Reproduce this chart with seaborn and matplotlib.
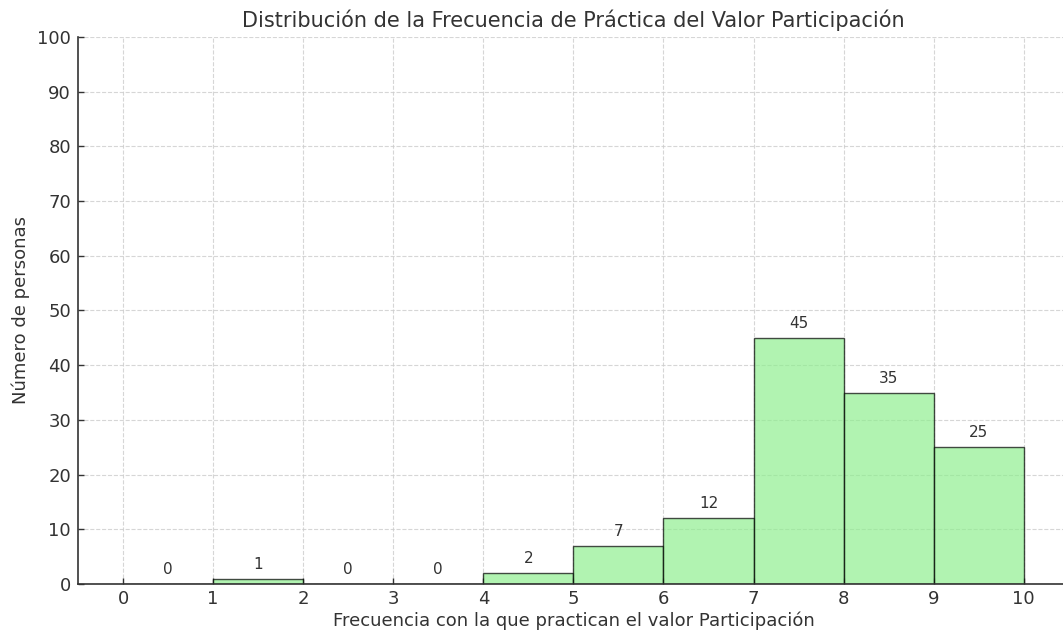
import numpy as np
import pandas as pd
import matplotlib
matplotlib.use('Agg')
import matplotlib.pyplot as plt
import seaborn as sns

# frequency levels (bin edges 0..10) and number of people per bin
bin_edges = [0, 1, 2, 3, 4, 5, 6, 7, 8, 9, 10]
bin_centers = [0.5, 1.5, 2.5, 3.5, 4.5, 5.5, 6.5, 7.5, 8.5, 9.5]
personas = [0, 1, 0, 0, 2, 7, 12, 45, 35, 25]

titulo = 'Distribución de la Frecuencia de Práctica del Valor Participación'
xlabel = 'Frecuencia con la que practican el valor Participación'
ylabel = 'Número de personas'

sns.set_style('whitegrid')
plt.rcParams['font.family'] = ['DejaVu Sans']
text_color = '#333333'
plt.rcParams.update({
    'text.color': text_color,
    'axes.labelcolor': text_color,
    'xtick.color': text_color,
    'ytick.color': text_color,
})

df = pd.DataFrame({'frecuencia': bin_centers, 'personas': personas})

fig = plt.figure(figsize=(10.63, 6.34), dpi=100)
ax = fig.add_axes([0.0734, 0.0789, 0.932, 0.8628])

sns.histplot(data=df, x='frecuencia', weights='personas', bins=bin_edges,
             color='lightgreen', alpha=0.7, edgecolor=(0, 0, 0, 0.7),
             linewidth=1.0, ax=ax)

# labels above each bin
for p in ax.patches:
    h = p.get_height()
    ax.annotate(f'{int(round(h))}', (p.get_x() + p.get_width() / 2, h),
                xytext=(0, 5), textcoords='offset points',
                ha='center', va='bottom', fontsize=11, color=text_color)

ax.set_xlim(-0.5, 10.5)
ax.set_ylim(0, 100)
ax.set_xticks(range(0, 11))
ax.set_yticks(range(0, 101, 10))
ax.tick_params(axis='both', labelsize=13, length=4, width=1, direction='in',
               bottom=True, left=True)
ax.tick_params(axis='y', pad=5)
ax.tick_params(axis='x', pad=4)
ax.grid(True, linestyle='--', color='#cccccc', linewidth=0.8, alpha=0.8)
ax.set_axisbelow(True)

for side in ['top', 'right']:
    ax.spines[side].set_visible(False)
for side in ['left', 'bottom']:
    ax.spines[side].set_color(text_color)
    ax.spines[side].set_linewidth(1.2)

ax.set_title(titulo, fontsize=15, color=text_color, pad=7)
ax.set_xlabel(xlabel, fontsize=13, labelpad=3)
ax.set_ylabel(ylabel, fontsize=13, labelpad=5)

fig.savefig('out.png', dpi=100)
